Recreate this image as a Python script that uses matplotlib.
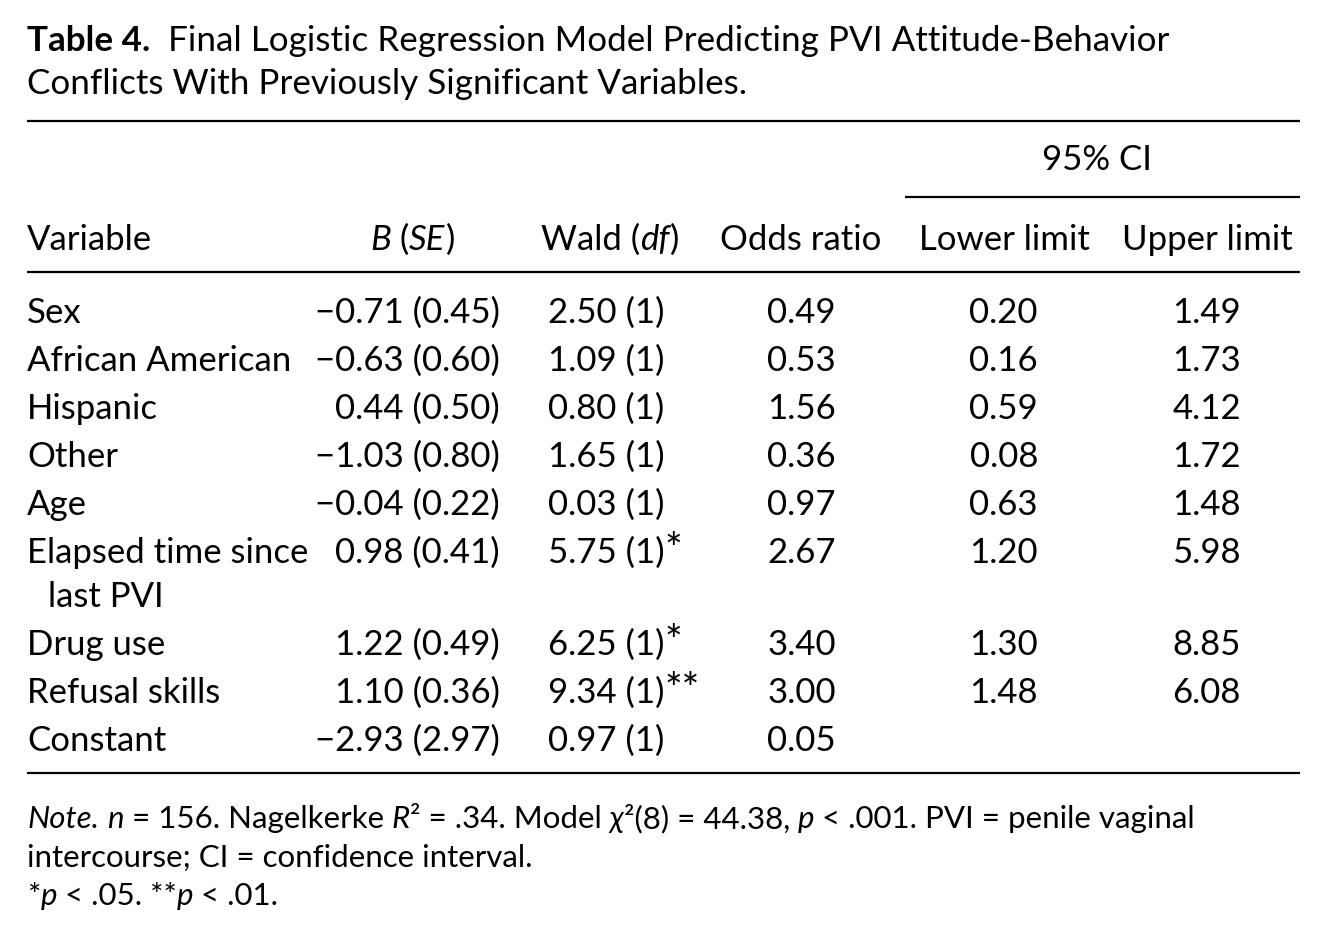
import matplotlib.pyplot as plt

FONT = ["Lato", "DejaVu Sans"]

title_bold = "Table 4."
title_line1 = "Final Logistic Regression Model Predicting PVI Attitude-Behavior"
title_line2 = "Conflicts With Previously Significant Variables."

variables = ["Sex", "African American", "Hispanic", "Other", "Age",
             "Elapsed time since", "Drug use", "Refusal skills", "Constant"]
wrapped = {5: "last PVI"}
b_se = ["\u22120.71 (0.45)", "\u22120.63 (0.60)", "0.44 (0.50)", "\u22121.03 (0.80)",
        "\u22120.04 (0.22)", "0.98 (0.41)", "1.22 (0.49)", "1.10 (0.36)",
        "\u22122.93 (2.97)"]
wald = ["2.50 (1)", "1.09 (1)", "0.80 (1)", "1.65 (1)", "0.03 (1)",
        "5.75 (1)", "6.25 (1)", "9.34 (1)", "0.97 (1)"]
stars = ["", "", "", "", "", "*", "*", "**", ""]
odds = ["0.49", "0.53", "1.56", "0.36", "0.97", "2.67", "3.40", "3.00", "0.05"]
lower = ["0.20", "0.16", "0.59", "0.08", "0.63", "1.20", "1.30", "1.48", ""]
upper = ["1.49", "1.73", "4.12", "1.72", "1.48", "5.98", "8.85", "6.08", ""]

fig = plt.figure(figsize=(13.26, 9.40), dpi=100)
ax = fig.add_axes([0, 0, 1, 1])
ax.set_xlim(0, 1326)
ax.set_ylim(940, 0)
ax.axis("off")
renderer = fig.canvas.get_renderer()


def runs(x, y, parts, size):
    """Draw a sequence of (text, style dict) pieces side by side."""
    for txt, kw in parts:
        kw = dict(kw)
        fs = kw.pop("fs", size)
        t = ax.text(x, y, txt, fontsize=fs, va="baseline", ha="left",
                    family=FONT, **kw)
        x += t.get_window_extent(renderer=renderer).width
    return x


def rule(y, x0=27, x1=1300):
    ax.plot([x0, x1], [y, y], color="black", lw=1.6, solid_capstyle="butt")


# title
TS = 25.2
runs(27, 51, [(title_bold, {"weight": "bold"}), ("  " + title_line1, {})], TS)
runs(27, 94, [(title_line2, {})], TS)

rule(121)
BS = 25
ax.text(1097, 170, "95% CI", fontsize=BS, ha="center", va="baseline", family=FONT)
rule(197, 905, 1300)

hy = 250
ax.text(27, hy, "Variable", fontsize=BS, va="baseline", family=FONT)
runs(370, hy, [("B", {"style": "italic"}), (" (", {}), ("SE", {"style": "italic"}),
               (")", {})], BS)
runs(541, hy, [("Wald (", {}), ("df", {"style": "italic"}), (")", {})], BS)
ax.text(801, hy, "Odds ratio", fontsize=BS, ha="center", va="baseline", family=FONT)
ax.text(1004, hy, "Lower limit", fontsize=BS, ha="center", va="baseline", family=FONT)
ax.text(1207, hy, "Upper limit", fontsize=BS, ha="center", va="baseline", family=FONT)
rule(272)

y = 323
for i, var in enumerate(variables):
    ax.text(27, y, var, fontsize=BS, va="baseline", family=FONT)
    ax.text(500, y, b_se[i], fontsize=BS, ha="right", va="baseline", family=FONT)
    runs(548, y, [(wald[i], {}), (stars[i], {"fs": 30})], BS)
    ax.text(836, y, odds[i], fontsize=BS, ha="right", va="baseline", family=FONT)
    ax.text(1038, y, lower[i], fontsize=BS, ha="right", va="baseline", family=FONT)
    ax.text(1241, y, upper[i], fontsize=BS, ha="right", va="baseline", family=FONT)
    if i in wrapped:
        y += 44
        ax.text(48, y, wrapped[i], fontsize=BS, va="baseline", family=FONT)
    y += 48

rule(773)

NS = 22.5
it = {"style": "italic"}
runs(27, 828, [("Note.", it), (" ", {}), ("n", it), (" = 156. Nagelkerke ", {}),
               ("R", it), ("\u00b2 = .34. Model ", {}), ("\u03c7", it),
               ("\u00b2(8) = 44.38, ", {}), ("p", it),
               (" < .001. PVI = penile vaginal", {})], NS)
runs(27, 867, [("intercourse; CI = confidence interval.", {})], NS)
runs(27, 905, [("*", {}), ("p", it), (" < .05. **", {}), ("p", it), (" < .01.", {})], NS)

fig.savefig("out.png", dpi=100, facecolor="white")
